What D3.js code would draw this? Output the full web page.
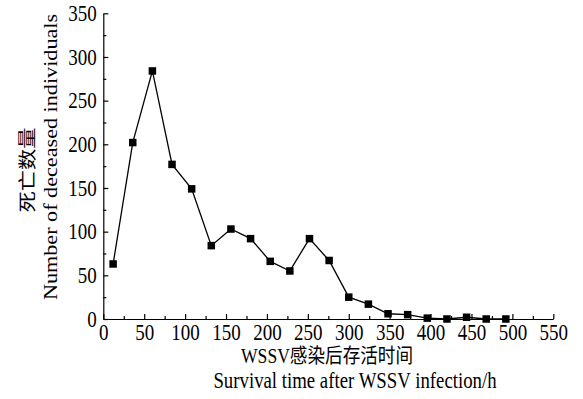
<!DOCTYPE html>
<html><head><meta charset="utf-8">
<script src="https://cdn.jsdelivr.net/npm/d3@7"></script>
<style>
body{margin:0;background:#fff}svg{display:block}
svg text{font-family:"Liberation Serif","Times New Roman","Noto Sans CJK SC",serif;fill:#000}
</style>
</head><body>
<svg id="c" width="583" height="399"></svg>
<script>
const hours = [12,36,60,84,108,132,156,180,204,228,252,276,300,324,348,372,396,420,444,468,492];
const deaths = [63,202,284,177,149,84,103,92,66,55,92,67,25,17,6,5,1,0,2,0,0];
const xTicks = [0,50,100,150,200,250,300,350,400,450,500,550];
const yTicks = [0,50,100,150,200,250,300,350];
const xTitleCn = "WSSV感染后存活时间";
const xTitleEn = "Survival time after WSSV infection/h";
const yTitleCn = "死亡数量";
const yTitleEn = "Number of deceased individuals";

const SY = 1.18; // vertical stretch of the lettering
const svg = d3.select("#c");
const x = d3.scaleLinear().domain([0,550]).range([103.3,553.3]);
const y = d3.scaleLinear().domain([0,350]).range([319,13.3]);

const g = svg.append("g");
const xa = g.append("g").attr("transform",`translate(0,${y(0)})`)
  .call(d3.axisBottom(x).tickValues(xTicks).tickSize(-5).tickSizeOuter(0));
const xm = g.append("g").attr("transform",`translate(0,${y(0)})`)
  .call(d3.axisBottom(x).tickValues(d3.range(25,550,50)).tickSize(-3).tickFormat("").tickSizeOuter(0));
xm.select(".domain").remove();
const ya = g.append("g").attr("transform",`translate(${x(0)},0)`)
  .call(d3.axisLeft(y).tickValues(yTicks).tickSize(-5).tickSizeOuter(0));
const ym = g.append("g").attr("transform",`translate(${x(0)},0)`)
  .call(d3.axisLeft(y).tickValues(d3.range(25,350,50)).tickSize(-3).tickFormat("").tickSizeOuter(0));
ym.select(".domain").remove();
[xa,ya,xm,ym].forEach(a=>{
  a.attr("font-family",null).attr("font-size",null);
  a.selectAll("path,line").attr("stroke","#000").attr("stroke-width",1.2);
});
xa.selectAll("text").attr("x",0).attr("y",0).attr("dy",null)
  .attr("font-size",19).attr("transform",`translate(0,21) scale(1,${SY})`);
ya.selectAll("text").attr("x",0).attr("y",0).attr("dy",null)
  .attr("font-size",19).attr("transform",`translate(-6.5,7.3) scale(1,${SY})`);

g.append("path").datum(hours.map((h,i)=>[h,deaths[i]]))
  .attr("fill","none").attr("stroke","#000").attr("stroke-width",1.3)
  .attr("d",d3.line().x(d=>x(d[0])).y(d=>y(d[1])));
g.selectAll("rect.m").data(hours).join("rect").attr("class","m")
  .attr("x",(d)=>x(d)-3.75).attr("y",(d,i)=>y(deaths[i])-3.75)
  .attr("width",7.5).attr("height",7.5).attr("fill","#000");

svg.append("text").attr("transform",`translate(327,363) scale(1,${SY})`).attr("text-anchor","middle")
  .attr("font-size",17.6).text(xTitleCn);
svg.append("text").attr("transform",`translate(355,388) scale(1,${SY})`).attr("text-anchor","middle")
  .attr("font-size",18.8).text(xTitleEn);
svg.append("text").attr("transform",`translate(34,170) rotate(-90) scale(${SY},1)`).attr("text-anchor","middle")
  .attr("font-size",18).text(yTitleCn);
svg.append("text").attr("transform",`translate(57,157) rotate(-90) scale(${SY},1)`).attr("text-anchor","middle")
  .attr("font-size",18.8).text(yTitleEn);
</script>
</body></html>
